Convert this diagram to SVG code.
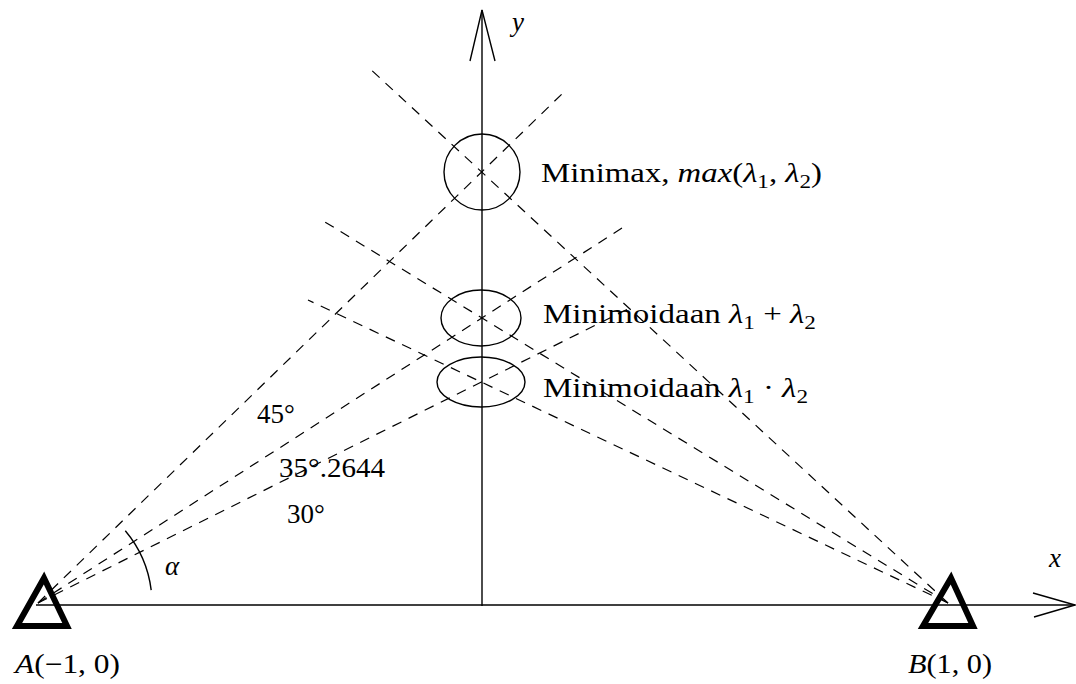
<svg xmlns="http://www.w3.org/2000/svg" width="1076" height="684" viewBox="0 0 1076 684">
<style>
text{font-family:'Liberation Serif','Times New Roman',serif;font-size:27px;fill:#000}
.it{font-style:italic}
.sub{font-size:19px}
.axis{stroke:#000;stroke-width:1.4;fill:none}
.dash{stroke:#000;stroke-width:1.2;stroke-dasharray:10 8;fill:none}
.ring{stroke:#000;stroke-width:1.4;fill:none}
.tri{stroke:#000;stroke-width:6;fill:none;stroke-linejoin:miter}
</style>
<rect width="1076" height="684" fill="#fff"/>
<g id="connectors">
<line class="dash" x1="38" y1="603" x2="565" y2="91"/>
<line class="dash" x1="38" y1="603" x2="622" y2="228"/>
<line class="dash" x1="38" y1="603" x2="630" y2="308"/>
<line class="dash" x1="948" y1="603" x2="367" y2="66"/>
<line class="dash" x1="948" y1="603" x2="325" y2="222"/>
<line class="dash" x1="948" y1="603" x2="308" y2="300"/>
<path class="axis" d="M151.2,590.1 A114,114 0 0 0 125.3,530.7"/>
</g>
<g id="axes">
<line class="axis" x1="36" y1="605" x2="1075" y2="605"/>
<polyline class="axis" points="1033,593 1075,605 1034,617"/>
<line class="axis" x1="482" y1="606" x2="482" y2="10"/>
<polyline class="axis" points="470,61 482,10 495,61"/>
<text class="it" x="512" y="31">y</text>
<text class="it" x="1049" y="567">x</text>
</g>
<g id="nodeA">
<polygon class="tri" points="44,578 17,626 67,626"/>
<text x="15" y="673" textLength="105" lengthAdjust="spacingAndGlyphs"><tspan class="it">A</tspan>(−1, 0)</text>
</g>
<g id="nodeB">
<polygon class="tri" points="951,578 923,626 973,626"/>
<text x="908" y="673" textLength="84" lengthAdjust="spacingAndGlyphs"><tspan class="it">B</tspan>(1, 0)</text>
</g>
<g id="minimax">
<circle class="ring" cx="482" cy="172" r="38"/>
<text x="541" y="182" textLength="281" lengthAdjust="spacingAndGlyphs">Minimax, <tspan class="it">max</tspan>(<tspan class="it">λ</tspan><tspan class="sub" dy="6">1</tspan><tspan dy="-6">, </tspan><tspan class="it">λ</tspan><tspan class="sub" dy="6">2</tspan><tspan dy="-6">)</tspan></text>
</g>
<g id="sum">
<ellipse class="ring" cx="481" cy="318" rx="40" ry="28"/>
<text x="543" y="323" textLength="273" lengthAdjust="spacingAndGlyphs">Minimoidaan <tspan class="it">λ</tspan><tspan class="sub" dy="6">1</tspan><tspan dy="-6"> + </tspan><tspan class="it">λ</tspan><tspan class="sub" dy="6">2</tspan></text>
</g>
<g id="product">
<ellipse class="ring" cx="481" cy="382" rx="44" ry="25"/>
<text x="543" y="397" textLength="265" lengthAdjust="spacingAndGlyphs">Minimoidaan <tspan class="it">λ</tspan><tspan class="sub" dy="6">1</tspan><tspan dy="-6"> · </tspan><tspan class="it">λ</tspan><tspan class="sub" dy="6">2</tspan></text>
</g>
<g id="labels">
<text x="257" y="423">45°</text>
<text x="279" y="477" textLength="106" lengthAdjust="spacingAndGlyphs">35°.2644</text>
<text x="287" y="523">30°</text>
<text class="it" x="165" y="575">α</text>
</g>
</svg>
